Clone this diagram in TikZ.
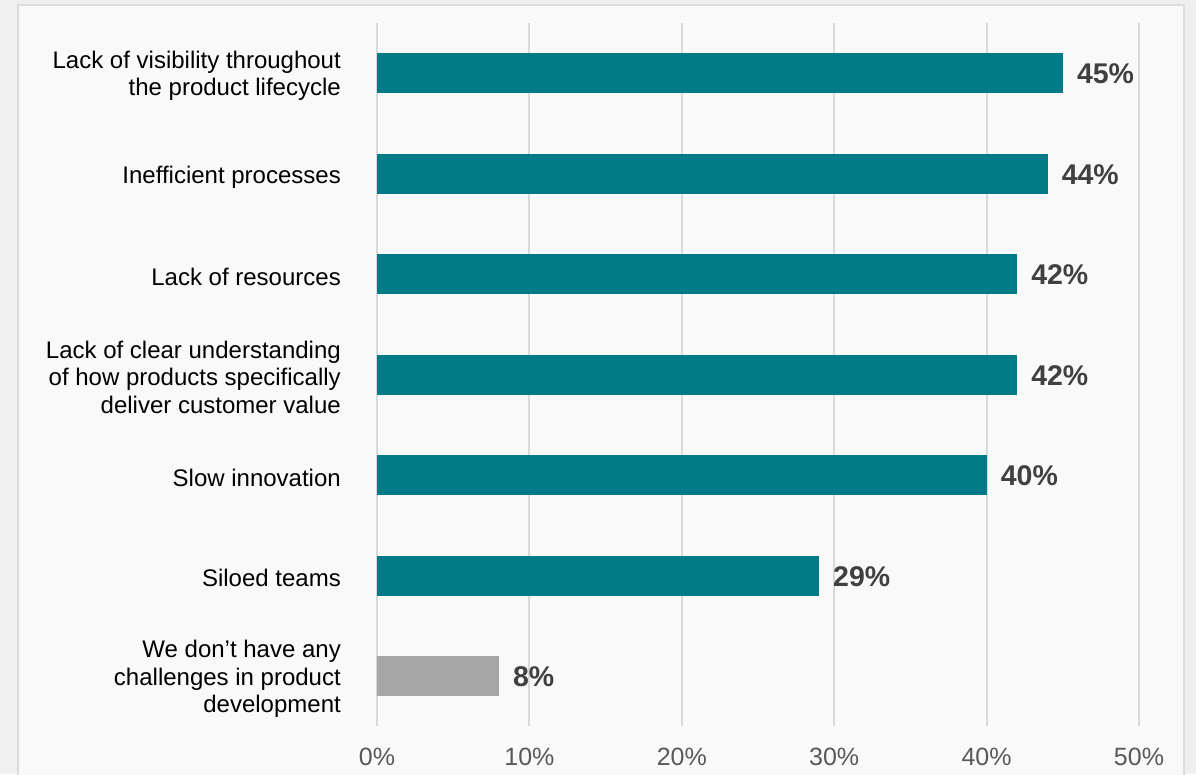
\documentclass[tikz,border=0pt]{standalone}
\usepackage{fontspec}
\setmainfont{Liberation Sans}
\definecolor{outerbg}{HTML}{EFEFEF}
\definecolor{panelbg}{HTML}{F9F9F9}
\definecolor{panelline}{HTML}{DCDCDC}
\definecolor{gridc}{HTML}{D9D9D9}
\definecolor{teal}{HTML}{007A87}
\definecolor{graybar}{HTML}{A6A6A6}
\definecolor{valc}{HTML}{404040}
\definecolor{axisc}{HTML}{595959}
\begin{document}
\begin{tikzpicture}[x=1pt,y=-1pt,
  catlabel/.style={anchor=east,align=right,inner sep=0pt,font=\fontsize{24}{27.5}\selectfont,text=black},
  vallabel/.style={anchor=west,inner sep=0pt,font=\bfseries\fontsize{28.5}{30}\selectfont,text=valc},
  axlabel/.style={anchor=center,inner sep=0pt,font=\fontsize{25}{28}\selectfont,text=axisc},
  gridline/.style={draw=gridc,line width=2pt},
  tealbar/.style={fill=teal},
  graybarst/.style={fill=graybar}]
\useasboundingbox (0,0) rectangle (1196,774);
\fill[outerbg] (0,0) rectangle (1196,774);
\filldraw[fill=panelbg,draw=panelline,line width=2pt] (18,5) rectangle (1184,790);
% gridlines
\foreach \i in {0,...,5}{
  \draw[gridline] ({377+\i*152.4},23) -- ({377+\i*152.4},726);
  \node[axlabel] (ax\i) at ({377+\i*152.4},757) {\pgfmathparse{int(\i*10)}\pgfmathresult\%};
}
% bars
\foreach \v/\c/\n [count=\k from 0] in {45/teal/b1,44/teal/b2,42/teal/b3,42/teal/b4,40/teal/b5,29/teal/b6,8/graybar/b7}{
  \fill[\c] (377,{53+\k*100.5}) rectangle ({377+\v*15.24},{93+\k*100.5});
  \node[vallabel] (v\n) at ({377+\v*15.24+14},{74+\k*100.5}) {\v\%};
}
% category labels
\node[catlabel] (c1) at (341,76) {Lack of visibility throughout\\the product lifecycle};
\node[catlabel] (c2) at (341,177) {Inefficient processes};
\node[catlabel] (c3) at (341,277) {Lack of resources};
\node[catlabel] (c4) at (341,377) {Lack of clear understanding\\of how products specifically\\deliver customer value};
\node[catlabel] (c5) at (341,478) {Slow innovation};
\node[catlabel] (c6) at (341,578) {Siloed teams};
\node[catlabel] (c7) at (341,679) {We don’t have any\\challenges in product\\development};
\end{tikzpicture}
\end{document}
